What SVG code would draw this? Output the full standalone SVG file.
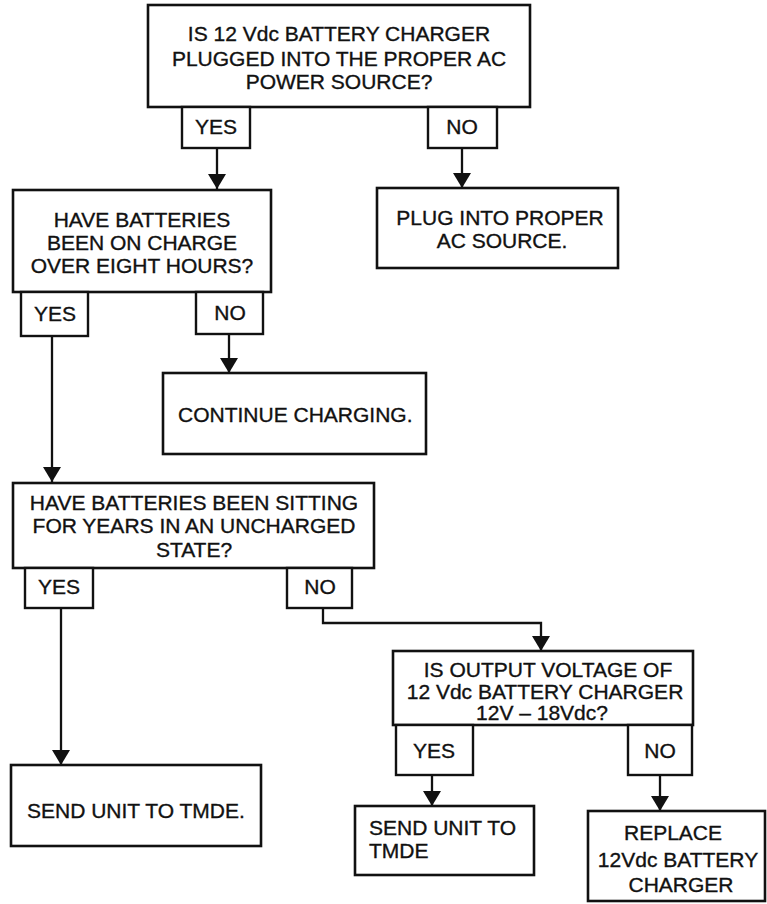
<svg xmlns="http://www.w3.org/2000/svg" width="767" height="904" viewBox="0 0 767 904">
<defs>
<style>
.box{fill:#fff;stroke:#111;stroke-width:2.6}
.tab{fill:#fff;stroke:#111;stroke-width:2.4}
.t{font-family:"Liberation Sans",Arial,sans-serif;font-size:21px;fill:#111;stroke:#111;stroke-width:0.35}
.c{text-anchor:middle}
.ln{fill:none;stroke:#111;stroke-width:2.3;marker-end:url(#ah)}
</style>
<marker id="ah" viewBox="0 0 15 18" refX="15" refY="9" markerWidth="15" markerHeight="18" markerUnits="userSpaceOnUse" orient="auto">
<path d="M0,0 L15,9 L0,18 z" fill="#111"/>
</marker>
</defs>
<rect width="767" height="904" fill="#fff"/>

<g id="connectors">
<path class="ln" d="M217,148 V189"/>
<path class="ln" d="M462,148 V188"/>
<path class="ln" d="M229,334 V373"/>
<path class="ln" d="M52,336 V482"/>
<path class="ln" d="M61,608 V765"/>
<path class="ln" d="M323,608 V623 H541 V651"/>
<path class="ln" d="M432,775 V806"/>
<path class="ln" d="M660,775 V811"/>
</g>

<g id="q1">
<rect class="box" x="148" y="5" width="382" height="102"/>
<text class="t c" x="339" y="41">IS 12 Vdc BATTERY CHARGER</text>
<text class="t c" x="339" y="66">PLUGGED INTO THE PROPER AC</text>
<text class="t c" x="339" y="89">POWER SOURCE?</text>
</g>
<g id="q1-yes">
<rect class="tab" x="182" y="107" width="68" height="41"/>
<text class="t c" x="216" y="134">YES</text>
</g>
<g id="q1-no">
<rect class="tab" x="428" y="107" width="69" height="41"/>
<text class="t c" x="462" y="134">NO</text>
</g>

<g id="plug">
<rect class="box" x="377" y="188" width="241" height="80"/>
<text class="t c" x="500" y="225">PLUG INTO PROPER</text>
<text class="t c" x="502" y="248">AC SOURCE.</text>
</g>

<g id="q2">
<rect class="box" x="13" y="190" width="258" height="102"/>
<text class="t c" x="142" y="227">HAVE BATTERIES</text>
<text class="t c" x="142" y="250">BEEN ON CHARGE</text>
<text class="t c" x="142" y="273">OVER EIGHT HOURS?</text>
</g>
<g id="q2-yes">
<rect class="tab" x="21" y="292" width="67" height="44"/>
<text class="t c" x="55" y="321">YES</text>
</g>
<g id="q2-no">
<rect class="tab" x="196" y="292" width="67" height="42"/>
<text class="t c" x="230" y="320">NO</text>
</g>

<g id="continue">
<rect class="box" x="163" y="373" width="263" height="81"/>
<text class="t" x="178" y="422">CONTINUE CHARGING.</text>
</g>

<g id="q3">
<rect class="box" x="13" y="483" width="361" height="85"/>
<text class="t c" x="194" y="510">HAVE BATTERIES BEEN SITTING</text>
<text class="t c" x="194" y="533">FOR YEARS IN AN UNCHARGED</text>
<text class="t c" x="194" y="557">STATE?</text>
</g>
<g id="q3-yes">
<rect class="tab" x="25" y="568" width="68" height="40"/>
<text class="t c" x="59" y="594">YES</text>
</g>
<g id="q3-no">
<rect class="tab" x="287" y="568" width="65" height="40"/>
<text class="t c" x="320" y="594">NO</text>
</g>

<g id="send1">
<rect class="box" x="11" y="765" width="250" height="81"/>
<text class="t" x="27" y="818">SEND UNIT TO TMDE.</text>
</g>

<g id="q4">
<rect class="box" x="393" y="651" width="300" height="74"/>
<text class="t c" x="548" y="677">IS OUTPUT VOLTAGE OF</text>
<text class="t c" x="545" y="699">12 Vdc BATTERY CHARGER</text>
<text class="t c" x="542" y="720">12V – 18Vdc?</text>
</g>
<g id="q4-yes">
<rect class="tab" x="396" y="725" width="77" height="50"/>
<text class="t c" x="434" y="758">YES</text>
</g>
<g id="q4-no">
<rect class="tab" x="628" y="725" width="64" height="50"/>
<text class="t c" x="660" y="758">NO</text>
</g>

<g id="send2">
<rect class="box" x="355" y="806" width="179" height="69"/>
<text class="t" x="369" y="835">SEND UNIT TO</text>
<text class="t" x="369" y="858">TMDE</text>
</g>

<g id="replace">
<rect class="box" x="588" y="811" width="177" height="90"/>
<text class="t c" x="673" y="840">REPLACE</text>
<text class="t c" x="678" y="867">12Vdc BATTERY</text>
<text class="t c" x="681" y="892">CHARGER</text>
</g>
</svg>
